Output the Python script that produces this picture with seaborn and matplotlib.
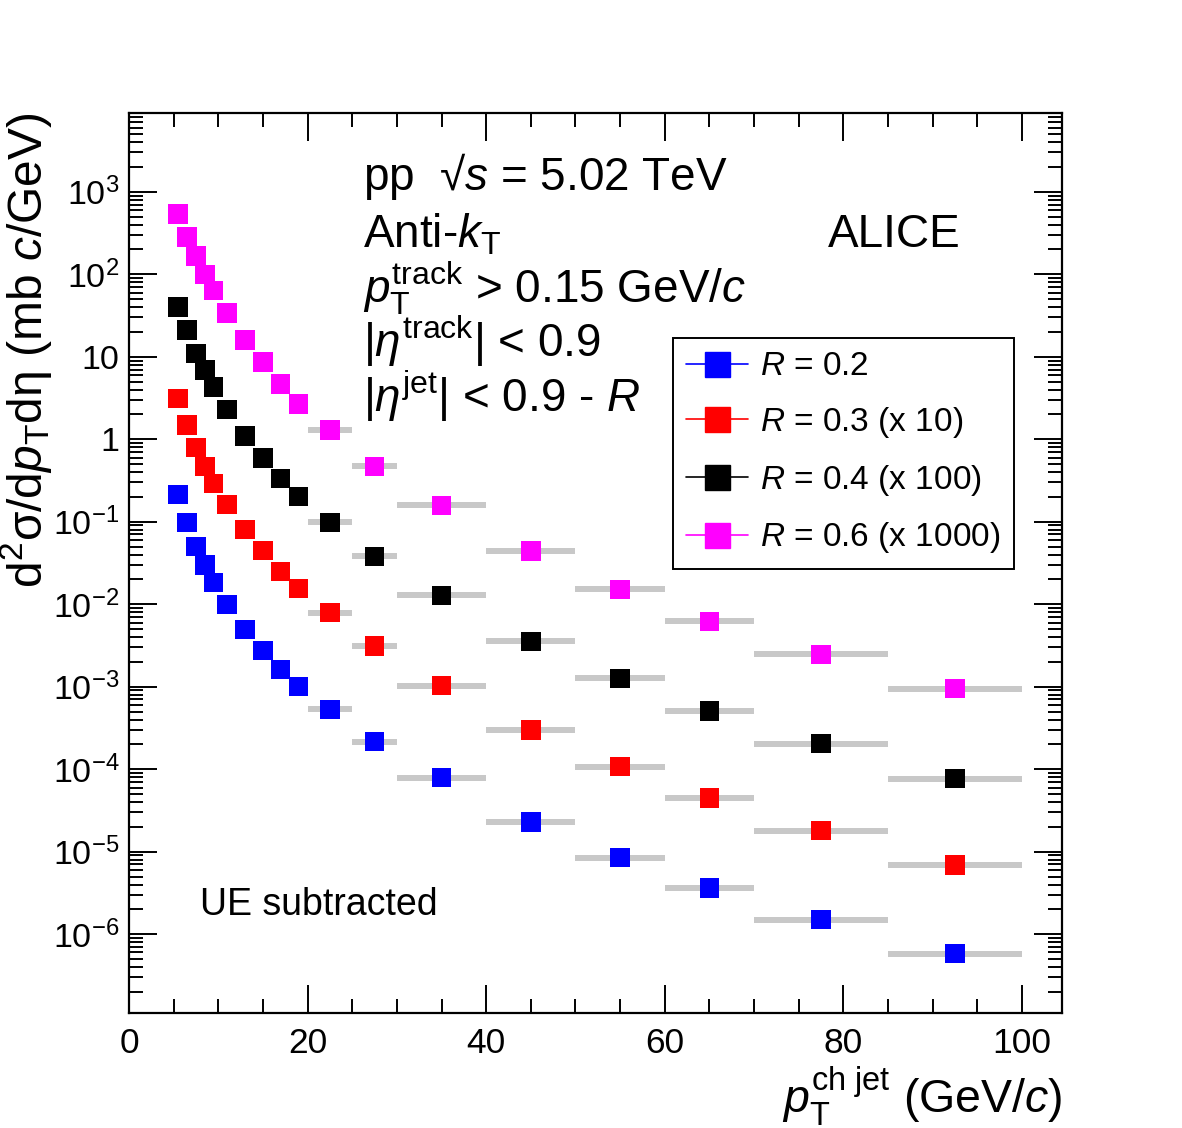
import numpy as np
import pandas as pd
import matplotlib
matplotlib.use("Agg")
import matplotlib.pyplot as plt
import seaborn as sns
from matplotlib.lines import Line2D
from matplotlib.ticker import LogLocator, MultipleLocator, FuncFormatter, NullFormatter

# jet pT bins (GeV/c)
bin_lo = [5, 6, 7, 8, 9, 10, 12, 14, 16, 18, 20, 25, 30, 40, 50, 60, 70, 85]
bin_hi = [6, 7, 8, 9, 10, 12, 14, 16, 18, 20, 25, 30, 40, 50, 60, 70, 85, 100]

# cross sections as plotted (already scaled)
r02 = [0.215, 0.098, 0.050, 0.030, 0.0184, 0.0100, 0.0049, 0.00275, 0.00162, 0.00100,
       5.3e-4, 2.16e-4, 7.9e-5, 2.3e-5, 8.5e-6, 3.65e-6, 1.5e-6, 5.8e-7]
r03_x10 = [3.1, 1.48, 0.80, 0.47, 0.29, 0.162, 0.081, 0.045, 0.025, 0.0155,
           0.0079, 0.0031, 0.00103, 3.0e-4, 1.07e-4, 4.5e-5, 1.8e-5, 6.9e-6]
r04_x100 = [40, 21, 11, 6.9, 4.3, 2.3, 1.09, 0.59, 0.336, 0.203,
            0.098, 0.038, 0.0128, 0.00355, 0.00126, 5.1e-4, 2.04e-4, 7.7e-5]
r06_x1000 = [540, 283, 166, 100, 63, 34, 15.9, 8.6, 4.65, 2.66,
             1.29, 0.47, 0.158, 0.044, 0.0151, 0.0062, 0.00246, 9.5e-4]

labels = [r"$R$ = 0.2", r"$R$ = 0.3 (x 10)", r"$R$ = 0.4 (x 100)", r"$R$ = 0.6 (x 1000)"]
colors = ["#0000ff", "#ff0000", "#000000", "#ff00ff"]

sns.set_style("ticks")
plt.rcParams["font.family"] = ["Liberation Sans", "DejaVu Sans"]
plt.rcParams["mathtext.fontset"] = "custom"
plt.rcParams["mathtext.rm"] = "Liberation Sans"
plt.rcParams["mathtext.it"] = "Liberation Sans:italic"
plt.rcParams["mathtext.bf"] = "Liberation Sans:bold"
for k in ["text.color", "axes.labelcolor", "xtick.color", "ytick.color", "axes.edgecolor"]:
    plt.rcParams[k] = "black"

lo = np.array(bin_lo, dtype=float)
hi = np.array(bin_hi, dtype=float)
pt = 0.5 * (lo + hi)

series = [r02, r03_x10, r04_x100, r06_x1000]
df = pd.concat([pd.DataFrame({"pt": pt, "y": s, "lo": lo, "hi": hi, "series": lab})
                for s, lab in zip(series, labels)], ignore_index=True)

fig = plt.figure(figsize=(11.82, 11.28), dpi=100)
ax = fig.add_axes([0.1091, 0.102, 0.7895, 0.7978])

# grey systematic bands
ax.hlines(df["y"], df["lo"], df["hi"], color="#c8c8c8", lw=4.3, zorder=1)

sns.scatterplot(data=df, x="pt", y="y", hue="series", palette=colors, marker="s",
                s=195, linewidth=0, legend=False, ax=ax, zorder=3)

ax.set_yscale("log")
ax.set_xlim(0, 104.5)
ax.set_ylim(1.11e-7, 9.0e3)

ax.xaxis.set_major_locator(MultipleLocator(20))
ax.xaxis.set_minor_locator(MultipleLocator(5))
ax.yaxis.set_major_locator(LogLocator(base=10, numticks=20))
ax.yaxis.set_minor_locator(LogLocator(base=10, subs=np.arange(2, 10), numticks=20))
ax.yaxis.set_minor_formatter(NullFormatter())


def logfmt(v, pos):
    n = int(round(np.log10(v)))
    if n == 0:
        return "1"
    if n == 1:
        return "10"
    return r"$10^{%d}$" % n


ax.yaxis.set_major_formatter(FuncFormatter(logfmt))

ax.tick_params(which="both", direction="in", top=True, right=True, width=1.4,
               labelsize=25.5, pad=10)
ax.tick_params(axis="y", labelsize=24.5, pad=7)
ax.tick_params(which="major", length=20)
ax.tick_params(which="minor", length=10)
for sp in ax.spines.values():
    sp.set_linewidth(1.6)

ax.set_xlabel(r"$p_{\mathrm{T}}^{\mathrm{ch\ jet}}$ (GeV/$c$)", fontsize=33.5, loc="right")
ax.xaxis.set_label_coords(1.0, -0.057)
ax.set_ylabel(r"d$^{2}$σ/d$p_{\mathrm{T}}$dη (mb $c$/GeV)", fontsize=34.5, loc="top")
ax.yaxis.set_label_coords(-0.08, 1.0)

tx = 0.251
fs = 33
ax.text(tx, 0.914, r"pp  √$s$ = 5.02 TeV", transform=ax.transAxes, fontsize=fs, va="baseline")
ax.text(tx, 0.851, r"Anti-$k_{\mathrm{T}}$", transform=ax.transAxes, fontsize=fs, va="baseline")
ax.text(tx, 0.789, r"$p_{\mathrm{T}}^{\mathrm{track}}$ > 0.15 GeV/$c$", transform=ax.transAxes,
        fontsize=fs, va="baseline")
ax.text(tx, 0.729, r"|$\eta^{\mathrm{track}}$| < 0.9", transform=ax.transAxes, fontsize=fs, va="baseline")
ax.text(tx, 0.668, r"|$\eta^{\mathrm{jet}}$| < 0.9 - $R$", transform=ax.transAxes, fontsize=fs,
        va="baseline")
ax.text(0.749, 0.851, "ALICE", transform=ax.transAxes, fontsize=33, va="baseline")
ax.text(0.076, 0.109, "UE subtracted", transform=ax.transAxes, fontsize=27, va="baseline")

handles = [Line2D([0], [0], color=c, marker="s", markersize=18, lw=1.2) for c in colors]
leg = ax.legend(handles, labels, loc="upper left", bbox_to_anchor=(0.583, 0.75),
                fontsize=24, frameon=True, fancybox=False, framealpha=1,
                edgecolor="black", handlelength=1.86, labelspacing=0.68,
                borderpad=0.4, handletextpad=0.36, borderaxespad=0)
leg.get_frame().set_linewidth(1.4)

fig.savefig("out.png", dpi=100)
